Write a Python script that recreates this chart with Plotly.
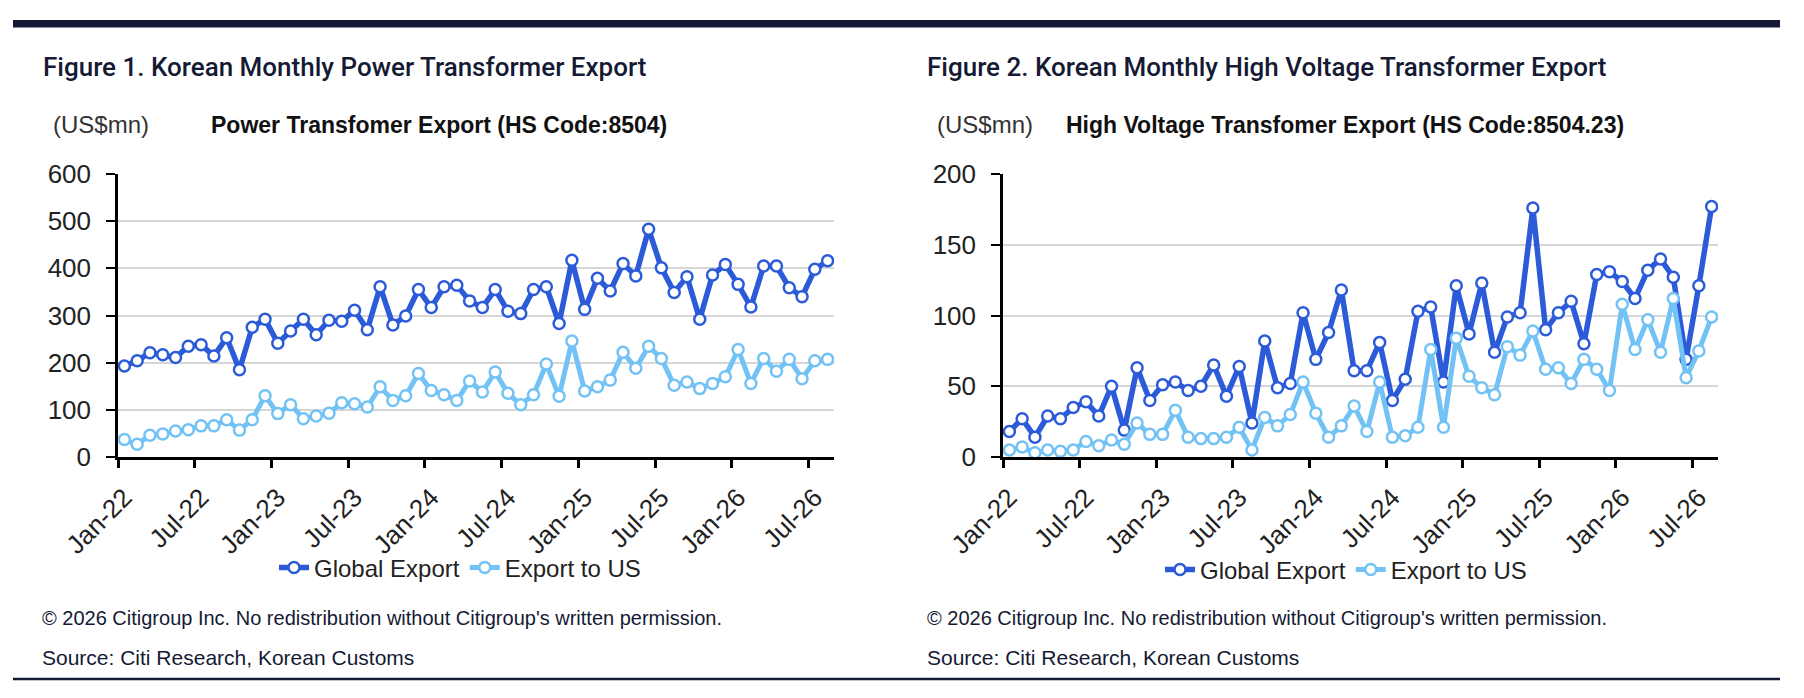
import plotly.graph_objects as go
import pandas as pd

# page body keeps an 8px margin, so the figure is drawn 16px smaller
W, H = 1788, 682
OFF = 8

# monthly categories Jan-22 .. Aug-26
months = pd.date_range("2022-01-01", periods=56, freq="MS").strftime("%b-%y").tolist()
tick_labels = ["Jan-22", "Jul-22", "Jan-23", "Jul-23", "Jan-24", "Jul-24",
               "Jan-25", "Jul-25", "Jan-26", "Jul-26"]

# Figure 1: power transformer export (HS 8504), US$mn
power_global = [193, 204, 221, 217, 211, 235, 238, 214, 253, 185, 275, 292,
                241, 267, 292, 259, 290, 288, 311, 270, 361, 280, 299, 355,
                317, 361, 364, 331, 317, 355, 309, 304, 355, 361, 283, 417,
                313, 379, 352, 410, 384, 483, 401, 349, 382, 292, 386, 408,
                366, 318, 405, 405, 359, 340, 398, 416]
power_us = [37, 27, 46, 49, 55, 58, 66, 66, 79, 57, 79, 130,
            92, 111, 81, 87, 93, 115, 113, 106, 149, 120, 130, 177,
            141, 132, 120, 161, 138, 180, 135, 111, 132, 197, 129, 246,
            140, 149, 163, 222, 188, 235, 209, 152, 159, 145, 156, 170,
            228, 156, 209, 182, 207, 166, 204, 207]

# Figure 2: high voltage transformer export (HS 8504.23), US$mn
hv_global = [18, 27, 14, 29, 27, 35, 39, 29, 50, 19, 63, 40,
             51, 53, 47, 50, 65, 43, 64, 24, 82, 49, 52, 102,
             69, 88, 118, 61, 61, 81, 40, 55, 103, 106, 53, 121,
             87, 123, 74, 99, 102, 176, 90, 102, 110, 80, 129, 131,
             124, 112, 132, 140, 127, 69, 121, 177]
hv_us = [5, 7, 3, 5, 4, 5, 11, 8, 12, 9, 24, 16,
         16, 33, 14, 13, 13, 14, 21, 5, 28, 22, 30, 53,
         31, 14, 22, 36, 18, 53, 14, 15, 21, 76, 21, 84,
         57, 49, 44, 78, 72, 89, 62, 63, 52, 69, 62, 47,
         108, 76, 97, 74, 112, 56, 75, 99]

DARK = "#2b5bd8"
LIGHT = "#72c2f5"
NAVY = "#151a34"
NARROW = "Liberation Sans Narrow, Arial Narrow, Liberation Sans, Arial"


def px(x):
    return (x - OFF) / W


def py(y):
    return 1 - (y - OFF) / H


x_idx = list(range(len(months)))
tick_idx = [months.index(t) for t in tick_labels]

fig = go.Figure()

panels = [
    ("x", "y", "legend", power_global, power_us),
    ("x2", "y2", "legend2", hv_global, hv_us),
]
for xa, ya, lg, glob, us in panels:
    fig.add_trace(go.Scatter(
        x=x_idx, y=glob, name="Global Export", xaxis=xa, yaxis=ya, legend=lg,
        mode="lines+markers", line=dict(color=DARK, width=5.5),
        marker=dict(symbol="circle", size=11, color="white",
                    line=dict(color=DARK, width=2.5)),
    ))
    fig.add_trace(go.Scatter(
        x=x_idx, y=us, name="Export to US", xaxis=xa, yaxis=ya, legend=lg,
        mode="lines+markers", line=dict(color=LIGHT, width=5),
        marker=dict(symbol="circle", size=11, color="white",
                    line=dict(color=LIGHT, width=2.5)),
    ))

xaxis_style = dict(
    range=[-0.5, len(months) - 0.5], tickmode="array",
    tickvals=tick_idx, ticktext=tick_labels, tickangle=-45,
    ticks="", ticklabelstandoff=12, showgrid=False, zeroline=False,
    showline=True, linecolor="black", linewidth=3, automargin=False,
    tickfont=dict(family=NARROW, size=26, color="#222"),
    minor=dict(tick0=-0.5, dtick=6, ticks="outside", ticklen=8,
               tickwidth=2.5, tickcolor="black", showgrid=False),
)
yaxis_style = dict(
    showgrid=True, gridcolor="#d6d6d6", gridwidth=2, zeroline=False,
    showline=True, linecolor="black", linewidth=2.5, automargin=False,
    ticks="outside", ticklen=9, tickwidth=2, tickcolor="black",
    ticklabelstandoff=10,
    tickfont=dict(family=NARROW, size=26, color="#222"),
)

fig.update_layout(
    width=W, height=H,
    margin=dict(l=0, r=0, t=0, b=0, autoexpand=False),
    paper_bgcolor="white", plot_bgcolor="white",
    xaxis=dict(domain=[px(118), px(834)], anchor="y", **xaxis_style),
    yaxis=dict(domain=[py(457), py(174)], anchor="x", range=[0, 600], dtick=100,
               **yaxis_style),
    xaxis2=dict(domain=[px(1003), px(1718)], anchor="y2", **xaxis_style),
    yaxis2=dict(domain=[py(457), py(174)], anchor="x2", range=[0, 200], dtick=50,
                **yaxis_style),
    legend=dict(orientation="h", x=px(460), y=py(568), xanchor="center",
                yanchor="middle", font=dict(family=NARROW, size=24, color="#222"),
                bgcolor="rgba(0,0,0,0)"),
    legend2=dict(orientation="h", x=px(1346), y=py(570), xanchor="center",
                 yanchor="middle", font=dict(family=NARROW, size=24, color="#222"),
                 bgcolor="rgba(0,0,0,0)"),
    showlegend=True,
)

# header bar and bottom rule
fig.add_shape(type="rect", xref="paper", yref="paper",
              x0=px(13), x1=px(1780), y0=py(27.5), y1=py(20),
              fillcolor=NAVY, line_width=0, layer="above")
fig.add_shape(type="line", xref="paper", yref="paper",
              x0=px(13), x1=px(1780), y0=py(679), y1=py(679),
              line=dict(color=NAVY, width=2.5))

texts = [
    (41, 67, "Figure 1. Korean Monthly Power Transformer Export",
     dict(family="Roboto", size=26, color=NAVY, weight=500)),
    (925, 67, "Figure 2. Korean Monthly High Voltage Transformer Export",
     dict(family="Roboto", size=26, color=NAVY, weight=500)),
    (51, 125, "(US$mn)", dict(family=NARROW, size=24, color="#333")),
    (209, 125, "<b>Power Transfomer Export (HS Code:8504)</b>",
     dict(family=NARROW, size=23, color="#111")),
    (935, 125, "(US$mn)", dict(family=NARROW, size=24, color="#333")),
    (1064, 125, "<b>High Voltage Transfomer Export (HS Code:8504.23)</b>",
     dict(family=NARROW, size=23, color="#111")),
    (40, 618, "© 2026 Citigroup Inc. No redistribution without Citigroup's written permission.",
     dict(family=NARROW, size=20, color=NAVY)),
    (40, 657, "Source: Citi Research, Korean Customs",
     dict(family=NARROW, size=21, color=NAVY)),
    (925, 618, "© 2026 Citigroup Inc. No redistribution without Citigroup's written permission.",
     dict(family=NARROW, size=20, color=NAVY)),
    (925, 657, "Source: Citi Research, Korean Customs",
     dict(family=NARROW, size=21, color=NAVY)),
]
for x, y, t, f in texts:
    fig.add_annotation(x=px(x), y=py(y), xref="paper", yref="paper", text=t,
                       showarrow=False, xanchor="left", yanchor="middle", font=f)

fig.write_html("out.html")
